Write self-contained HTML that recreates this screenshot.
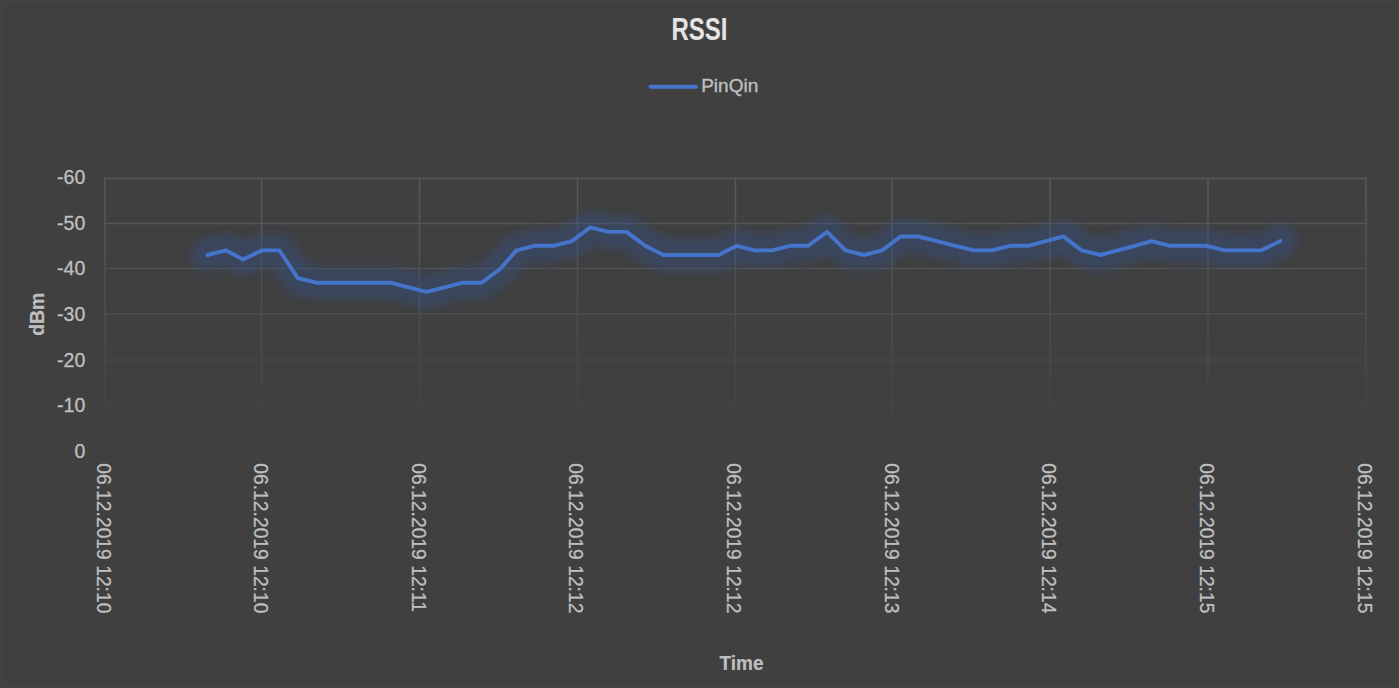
<!DOCTYPE html>
<html><head><meta charset="utf-8"><style>
html,body{margin:0;padding:0;background:#404040;}
body{width:1399px;height:688px;overflow:hidden;}
svg{display:block;}
text{font-family:"Liberation Sans",sans-serif;}
</style></head><body>
<svg width="1399" height="688" viewBox="0 0 1399 688">
<defs>
<linearGradient id="gg" gradientUnits="userSpaceOnUse" x1="0" y1="178.3" x2="0" y2="450.0">
<stop offset="0" stop-color="#585858"/><stop offset="0.17" stop-color="#565656"/><stop offset="0.97" stop-color="#404040"/>
</linearGradient>
<filter id="glow" x="-10%" y="-50%" width="120%" height="200%">
<feGaussianBlur stdDeviation="4.5"/>
</filter>
</defs>
<rect x="0" y="0" width="1399" height="688" fill="#404040"/>
<rect x="1.5" y="1.5" width="1396" height="685" fill="none" stroke="#474747" stroke-width="1"/>
<g stroke="url(#gg)" stroke-width="1.5" fill="none">
<line x1="104.3" y1="178.40" x2="1366.7" y2="178.40"/><line x1="104.3" y1="223.50" x2="1366.7" y2="223.50"/><line x1="104.3" y1="268.60" x2="1366.7" y2="268.60"/><line x1="104.3" y1="313.70" x2="1366.7" y2="313.70"/><line x1="104.3" y1="360.00" x2="1366.7" y2="360.00"/><line x1="104.3" y1="405.30" x2="1366.7" y2="405.30"/><line x1="104.3" y1="450.50" x2="1366.7" y2="450.50"/><line x1="105.00" y1="177.6" x2="105.00" y2="451"/><line x1="261.50" y1="177.6" x2="261.50" y2="451"/><line x1="419.50" y1="177.6" x2="419.50" y2="451"/><line x1="577.50" y1="177.6" x2="577.50" y2="451"/><line x1="735.50" y1="177.6" x2="735.50" y2="451"/><line x1="892.20" y1="177.6" x2="892.20" y2="451"/><line x1="1050.20" y1="177.6" x2="1050.20" y2="451"/><line x1="1208.00" y1="177.6" x2="1208.00" y2="451"/><line x1="1366.00" y1="177.6" x2="1366.00" y2="451"/>
</g>
<g font-size="19.5" fill="#bfbfbf" stroke="#bfbfbf" stroke-width="0.3">
<text x="85.3" y="184.4" text-anchor="end">-60</text><text x="85.3" y="229.9" text-anchor="end">-50</text><text x="85.3" y="275.4" text-anchor="end">-40</text><text x="85.3" y="321.0" text-anchor="end">-30</text><text x="85.3" y="366.5" text-anchor="end">-20</text><text x="85.3" y="412.0" text-anchor="end">-10</text><text x="85.3" y="457.5" text-anchor="end">0</text>
</g>
<g font-size="19.3" fill="#bfbfbf" stroke="#bfbfbf" stroke-width="0.3">
<text transform="translate(96.85,463.3) rotate(90)">06.12.2019 12:10</text><text transform="translate(254.30,463.3) rotate(90)">06.12.2019 12:10</text><text transform="translate(411.70,463.3) rotate(90)">06.12.2019 12:11</text><text transform="translate(569.40,463.3) rotate(90)">06.12.2019 12:12</text><text transform="translate(727.10,463.3) rotate(90)">06.12.2019 12:12</text><text transform="translate(884.60,463.3) rotate(90)">06.12.2019 12:13</text><text transform="translate(1042.25,463.3) rotate(90)">06.12.2019 12:14</text><text transform="translate(1200.10,463.3) rotate(90)">06.12.2019 12:15</text><text transform="translate(1357.85,463.3) rotate(90)">06.12.2019 12:15</text>
</g>
<text transform="translate(699.5,39.7) scale(0.775,1)" text-anchor="middle" font-size="31" font-weight="bold" fill="#e4e4e4">RSSI</text>
<line x1="650.5" y1="86.7" x2="696" y2="86.7" stroke="#4574cc" stroke-width="4" stroke-linecap="round"/>
<text x="701.2" y="91.8" font-size="19" fill="#bfbfbf" stroke="#bfbfbf" stroke-width="0.35">PinQin</text>
<text transform="translate(44.3,314.2) rotate(-90)" text-anchor="middle" font-size="19.5" font-weight="bold" fill="#bfbfbf" stroke="#bfbfbf" stroke-width="0.2">dBm</text>
<text transform="translate(741.5,670.2) scale(0.93,1)" text-anchor="middle" font-size="20.5" font-weight="bold" fill="#bfbfbf" stroke="#bfbfbf" stroke-width="0.2">Time</text>
<path d="M207.5,255.0 L226.1,250.4 L243.1,259.6 L261.7,250.4 L279.5,250.4 L297.8,278.1 L316.6,282.7 L335.0,282.7 L353.5,282.7 L372.0,282.7 L390.4,282.7 L408.5,287.3 L426.5,291.9 L444.7,287.3 L463.0,282.7 L481.6,282.7 L500.2,268.8 L516.5,250.4 L534.5,245.8 L553.7,245.8 L572.0,241.1 L590.4,227.3 L608.2,231.9 L626.5,231.9 L645.3,245.8 L663.4,255.0 L681.7,255.0 L700.2,255.0 L718.7,255.0 L736.5,245.8 L754.8,250.4 L772.0,250.4 L790.0,245.8 L808.3,245.8 L827.1,231.9 L845.5,250.4 L863.8,255.0 L882.1,250.4 L900.5,236.5 L918.3,236.5 L936.8,241.1 L955.3,245.8 L973.8,250.4 L991.8,250.4 L1010.0,245.8 L1028.3,245.8 L1046.0,241.1 L1063.4,236.5 L1081.7,250.4 L1100.7,255.0 L1117.7,250.4 L1134.7,245.8 L1151.6,241.1 L1169.9,245.8 L1188.5,245.8 L1206.8,245.8 L1224.4,250.4 L1242.7,250.4 L1261.0,250.4 L1280.4,241.1" fill="none" stroke="#2F5597" stroke-opacity="0.32" stroke-width="33" stroke-linejoin="round" stroke-linecap="round" filter="url(#glow)"/>
<path d="M207.5,255.0 L226.1,250.4 L243.1,259.6 L261.7,250.4 L279.5,250.4 L297.8,278.1 L316.6,282.7 L335.0,282.7 L353.5,282.7 L372.0,282.7 L390.4,282.7 L408.5,287.3 L426.5,291.9 L444.7,287.3 L463.0,282.7 L481.6,282.7 L500.2,268.8 L516.5,250.4 L534.5,245.8 L553.7,245.8 L572.0,241.1 L590.4,227.3 L608.2,231.9 L626.5,231.9 L645.3,245.8 L663.4,255.0 L681.7,255.0 L700.2,255.0 L718.7,255.0 L736.5,245.8 L754.8,250.4 L772.0,250.4 L790.0,245.8 L808.3,245.8 L827.1,231.9 L845.5,250.4 L863.8,255.0 L882.1,250.4 L900.5,236.5 L918.3,236.5 L936.8,241.1 L955.3,245.8 L973.8,250.4 L991.8,250.4 L1010.0,245.8 L1028.3,245.8 L1046.0,241.1 L1063.4,236.5 L1081.7,250.4 L1100.7,255.0 L1117.7,250.4 L1134.7,245.8 L1151.6,241.1 L1169.9,245.8 L1188.5,245.8 L1206.8,245.8 L1224.4,250.4 L1242.7,250.4 L1261.0,250.4 L1280.4,241.1" fill="none" stroke="#4574cc" stroke-width="3.9" stroke-linejoin="round" stroke-linecap="round"/>
</svg>
</body></html>
